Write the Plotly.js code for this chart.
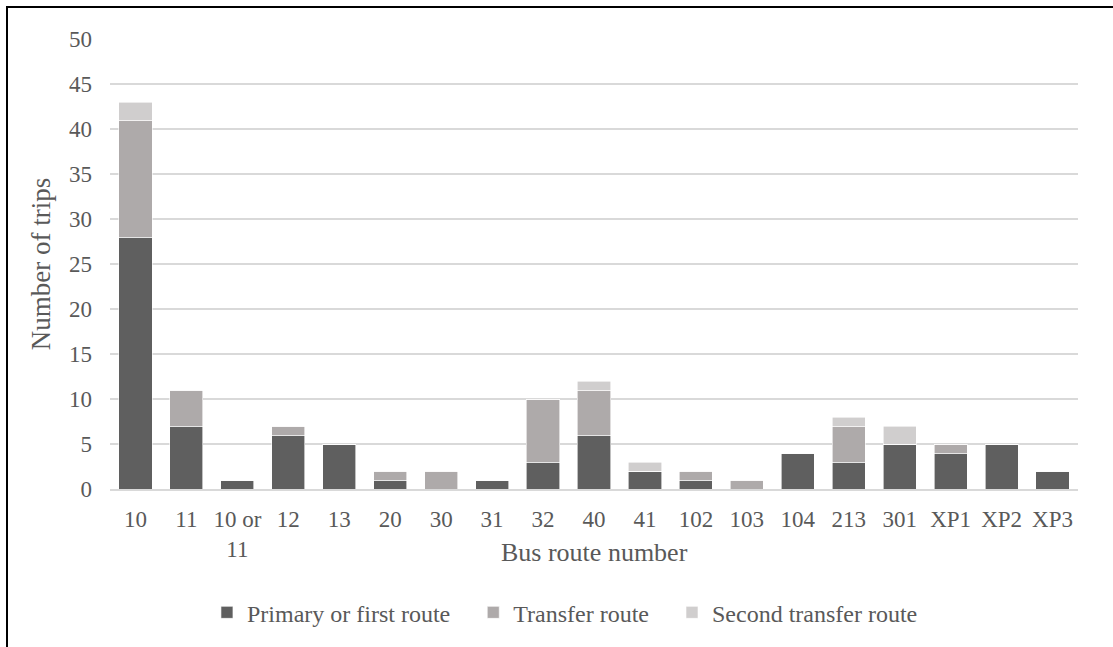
<!DOCTYPE html>
<html>
<head>
<meta charset="utf-8">
<script src="https://cdn.plot.ly/plotly-3.0.1.min.js"></script>
<style>
html,body{margin:0;padding:0;background:#fff;}
#frame{position:absolute;left:6px;top:6px;width:1120px;height:660px;border-left:2px solid #000;border-top:2px solid #000;pointer-events:none;}
#chart{position:absolute;left:0;top:0;width:1113px;height:647px;}
</style>
</head>
<body>
<div id="chart"></div>
<div id="frame"></div>
<script>
const categories = ["10","11","10 or<br>11","12","13","20","30","31","32","40","41","102","103","104","213","301","XP1","XP2","XP3"];
const primaryRoute = [28,7,1,6,5,1,0,1,3,6,2,1,0,4,3,5,4,5,2];
const transferRoute = [13,4,0,1,0,1,2,0,7,5,0,1,1,0,4,0,1,0,0];
const secondTransferRoute = [2,0,0,0,0,0,0,0,0,1,1,0,0,0,1,2,0,0,0];
const seriesNames = ["Primary or first route","Transfer route","Second transfer route"];
const yTicks = [0,5,10,15,20,25,30,35,40,45,50];
const xTitle = "Bus route number";
const yTitle = "Number of trips";

const colors = ["#5f5f5f","#aeaaaa","#d0cece"];
const values = [primaryRoute, transferRoute, secondTransferRoute];
const font = "Liberation Serif";
const pad = "\u00a0\u00a0\u00a0";

const traces = values.map((v,i)=>({
  type:"bar", x:categories, y:v,
  name: seriesNames[i] + (i < values.length-1 ? pad : ""),
  marker:{color:colors[i], line:{color:"#ffffff", width:0.6}},
  hoverinfo:"x+y+name"
}));

const layout = {
  width:1113, height:647,
  margin:{l:110, r:35, t:39, b:158},
  barmode:"stack", bargap:0.35,
  paper_bgcolor:"#fff", plot_bgcolor:"#fff",
  font:{family:font, color:"#595959", size:23},
  showlegend:true,
  legend:{orientation:"h", x:0.47, xanchor:"center", y:-0.275, yanchor:"middle",
    font:{family:font, size:24, color:"#595959"}, traceorder:"normal",
    itemwidth:30, tracegroupgap:0, itemclick:false},
  xaxis:{type:"category", tickvals:categories, ticktext:categories,
    showgrid:false, showline:true, linecolor:"#d9d9d9", linewidth:2,
    ticks:"", ticklabelstandoff:8, tickfont:{family:font, size:23, color:"#595959"},
    automargin:false},
  yaxis:{range:[0,50], tickvals:yTicks, showgrid:true, gridcolor:"#d9d9d9", gridwidth:2,
    zeroline:false, showline:false, ticks:"", ticklabelstandoff:17,
    tickfont:{family:font, size:23, color:"#595959"},
    title:{text:yTitle, font:{family:font, size:27, color:"#595959"}, standoff:10},
    automargin:false},
  annotations:[{text:xTitle, xref:"paper", yref:"paper", x:0.5, y:-0.142,
    xanchor:"center", yanchor:"middle", showarrow:false,
    font:{family:font, size:26, color:"#595959"}}]
};

Plotly.newPlot("chart", traces, layout, {displayModeBar:false, staticPlot:true});
</script>
</body>
</html>
